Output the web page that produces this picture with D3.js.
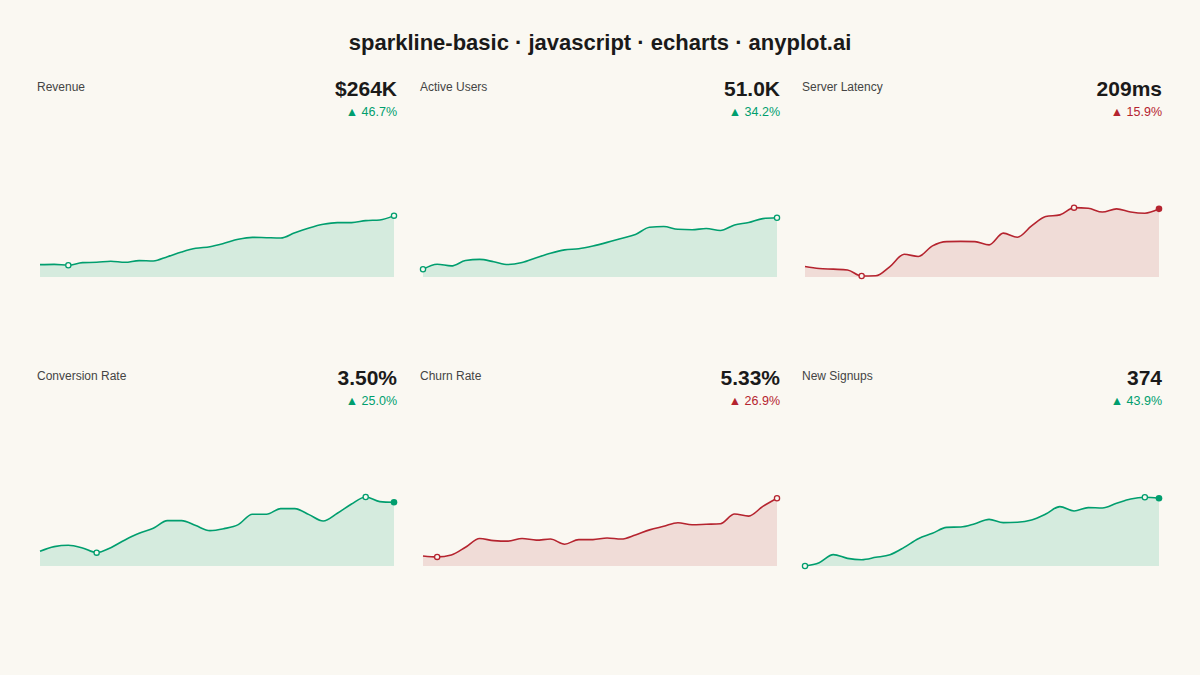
<!DOCTYPE html>
<html><head><meta charset="utf-8">
<script src="https://cdn.jsdelivr.net/npm/d3@7"></script>
<style>body{margin:0;background:#FAF8F2;font-family:"Liberation Sans",Arial,sans-serif}</style>
</head><body><svg id="c" width="1200" height="675"></svg>
<script>
const titles = ["Revenue","Active Users","Server Latency","Conversion Rate","Churn Rate","New Signups"];
const displayValues = ["$264K","51.0K","209ms","3.50%","5.33%","374"];
const changes = ["▲ 46.7%","▲ 34.2%","▲ 15.9%","▲ 25.0%","▲ 26.9%","▲ 43.9%"];
const badWhenUp = [false,false,true,false,true,false];
const revenue = [180.0,180.5,178.9,183.5,184.0,185.8,184.0,186.9,186.3,193.7,201.7,208.0,210.8,216.5,223.4,226.8,226.2,225.7,234.8,242.8,249.1,252.0,252.0,255.4,256.6,264.0];
const activeUsers = [38.0,39.27,38.85,40.2,40.5,39.9,39.2,39.7,40.9,42.05,42.9,43.2,43.9,44.8,45.8,46.8,48.6,48.8,48.1,48.0,48.3,47.8,49.2,49.8,50.8,51.0];
const latency = [180.3,179.3,179.0,178.6,175.6,175.7,180.3,186.4,185.3,190.6,192.7,192.8,192.7,191.1,196.9,194.9,200.5,205.2,206.0,209.6,209.3,207.4,209.0,207.4,206.8,209.0];
const conversion = [2.80,2.867,2.886,2.848,2.781,2.852,2.962,3.057,3.129,3.238,3.238,3.167,3.095,3.124,3.181,3.329,3.329,3.410,3.410,3.324,3.233,3.343,3.476,3.576,3.510,3.50];
const churn = [4.20,4.181,4.22,4.37,4.54,4.50,4.49,4.54,4.51,4.53,4.43,4.52,4.52,4.55,4.53,4.61,4.71,4.78,4.85,4.81,4.82,4.83,5.02,4.98,5.17,5.33];
const signups = [260,265.6,279.1,272.9,270.6,274.6,279.1,291.4,306.0,315.0,325.1,325.7,331.3,338.6,333.0,333.6,337.5,347.6,360.0,352.7,358.3,357.7,365.6,372.9,375.7,374];
const yDomains = [[158.8,290.8],[36.05,55.5],[175.1,213.4],[2.59,3.69],[4.003,5.51],[260,389.7]];
const series = [revenue,activeUsers,latency,conversion,churn,signups];

const svg = d3.select("#c");
svg.append("rect").attr("width",1200).attr("height",675).attr("fill","#FAF8F2");
svg.append("text").attr("x",600).attr("y",50).attr("text-anchor","middle")
  .attr("font-size",22).attr("font-weight","bold").attr("fill","#1a1a1a")
  .text("sparkline-basic · javascript · echarts · anyplot.ai");

const colX = [40,423,805], rowY = [0,289], W = 354;
series.forEach((data,i)=>{
  const cx = colX[i%3], oy = rowY[Math.floor(i/3)];
  const col = badWhenUp[i] ? "#B5242F" : "#009E6E";
  const fill = badWhenUp[i] ? "#F0DCD7" : "#D5EBDE";
  const g = svg.append("g");
  g.append("text").attr("x",cx-3).attr("y",oy+91).attr("font-size",12).attr("fill","#444").text(titles[i]);
  g.append("text").attr("x",cx+W+3).attr("y",oy+96).attr("text-anchor","end").attr("font-size",21).attr("font-weight","bold").attr("fill","#1a1a1a").text(displayValues[i]);
  g.append("text").attr("x",cx+W+3).attr("y",oy+116).attr("text-anchor","end").attr("font-size",12.5).attr("fill",col).text(changes[i]);
  const x = d3.scaleLinear().domain([0,data.length-1]).range([cx,cx+W]);
  const y = d3.scaleLinear().domain(yDomains[i]).range([oy+277,oy+200]);
  const curve = d3.curveMonotoneX;
  g.append("path").datum(data).attr("fill",fill)
    .attr("d",d3.area().x((d,j)=>x(j)).y0(oy+277).y1(d=>y(d)).curve(curve));
  g.append("path").datum(data).attr("fill","none").attr("stroke",col).attr("stroke-width",1.6)
    .attr("d",d3.line().x((d,j)=>x(j)).y(d=>y(d)).curve(curve));
  const last = data.length-1;
  const iMin = data.indexOf(d3.min(data)), iMax = data.indexOf(d3.max(data));
  [iMin,iMax].forEach(j=>{
    g.append("circle").attr("cx",x(j)).attr("cy",y(data[j])).attr("r",2.6)
     .attr("fill","#FAF8F2").attr("stroke",col).attr("stroke-width",1.3);
  });
  if(iMax!==last && iMin!==last){
    g.append("circle").attr("cx",x(last)).attr("cy",y(data[last])).attr("r",3.3).attr("fill",col);
  }
});
</script></body></html>
